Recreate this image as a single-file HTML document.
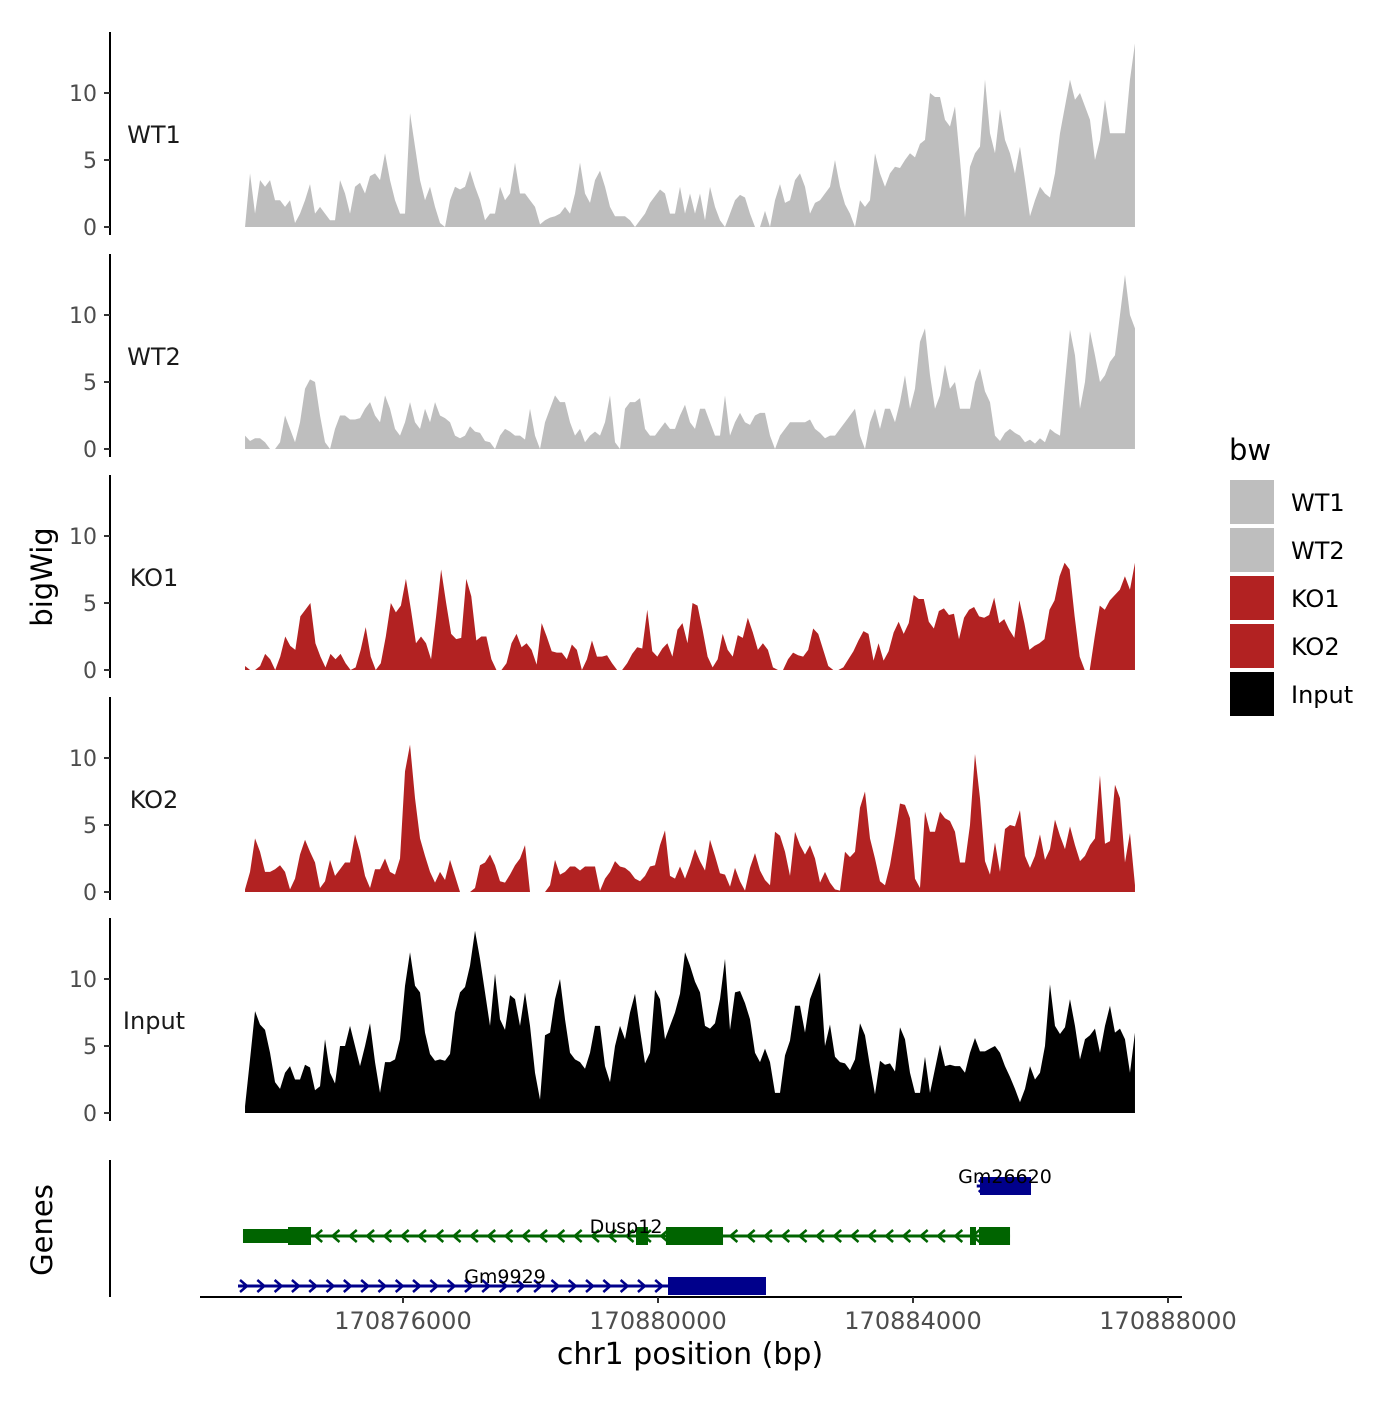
<!DOCTYPE html>
<html><head><meta charset="utf-8"><style>
html,body{margin:0;padding:0;background:#fff}
svg text{font-family:"DejaVu Sans","Liberation Sans",sans-serif}
</style></head><body>
<svg id="chart" width="1400" height="1400" viewBox="0 0 1400 1400"></svg>
<script>
const trackNames = ["WT1","WT2","KO1","KO2","Input"];
const trackColors = ["#bebebe","#bebebe","#b22222","#b22222","#000000"];
const yTicks = [0,5,10];
const xTickValues = [170876000,170880000,170884000,170888000];
const xTickLabels = ["170876000","170880000","170884000","170888000"];
const dataStart = 170873522;
const dataEnd = 170887482;
const wt1 = [0,4,1,3.5,3,3.5,2,2,1.5,2,0.3,1,2,3.2,1,1.5,1,0.5,0.5,3.5,2.5,1,3,3.3,2.5,3.8,4,3.5,5.5,3.5,2,1,1,8.5,6,3.5,2,3,1.5,0.3,0,2,3,2.8,3,4.2,3,2,0.5,1,1,3,2,2.5,4.8,2.5,2.5,2,1.5,0.2,0.5,0.7,0.8,1,1.5,1,2.5,4.8,2.5,1.8,3.5,4.2,3,1.5,0.8,0.8,0.8,0.5,0,0.5,1,1.8,2.3,2.8,2.5,1,1,3,1,2.5,1,2.5,0.5,3,1.5,0.5,0,1,2,2.4,2.2,1,0,0,1.2,0,2,3.2,1.8,2,3.5,4,3,1,1.8,2,2.5,3,5,3,1.7,1,0,2,1.5,2,5.5,4,3,4,4.5,4.4,5,5.5,5.2,6.2,6.5,10,9.7,9.7,8,7.5,9,5,0.7,4.5,5.5,6,11,7,5.5,8.8,6.5,5.5,4,6,3.5,0.8,2,3,2.5,2.2,4,7,9,11,9.5,10,9,8,5,6.5,9.5,7,7,7,7,11,13.7];
const wt2 = [1,0.6,0.8,0.8,0.5,0,0,0.5,2.5,1.5,0.5,2,4.5,5.2,5,2.5,0.5,0,1.5,2.5,2.5,2.2,2.2,2.3,3,3.5,2.5,2,4,3,1.5,1,2,3.5,2,1.5,3,2,3.5,2.5,2.3,2,1,0.8,1,1.7,1.3,1.2,0.6,0.5,0,1,1.5,1.3,1,1,0.7,3,1,0,2,3,4,3.5,3.5,2,1,1.5,0.5,1,1.3,1,2,4,0.5,0,3,3.5,3.5,3.8,1.5,1,1,1.5,2,1.5,1.5,2.5,3.3,2,1.5,3,3,2,1,1,4,1,2,2.7,2,1.8,2.5,2.7,2.7,1,0,1,1.5,2,2,2,2,2.2,1.5,1.2,0.8,1,1,1.5,2,2.5,3,1,0,2,3,1.5,3,3,2,3.5,5.5,3,4.5,8,9,5.5,3,4,6.3,4.5,5,3,3,3,5,6,4.3,3.5,1,0.6,1.2,1.5,1.2,1,0.5,0.7,0.4,0.8,0.5,1.5,1.2,1,5,8.9,7,3,5,8.8,7,5,5.5,6.5,7,10,13,10,9];
const ko1 = [0.3,0,0,0.3,1.2,0.8,0,1,2.5,1.8,1.5,4,4.5,5,2,1,0.2,1.2,0.8,1.2,0.5,0,0.2,1.5,3.2,1,0,0.5,2.5,5,4.3,4.8,6.8,4.5,2,2.5,2,0.8,4,7.5,5,2.7,2.3,2.4,6.8,5.5,2.2,2.5,2.5,0.8,0,0,0.5,2,2.7,1.7,2,1.5,0.4,3.5,2.5,1.4,1.3,1.3,0.8,1.9,1.5,0,0.8,2.2,1,1,1.1,0.5,0,0,0.5,1.2,1.7,1.6,4.5,1.4,1,1.6,2,1,3,3.5,2,5,4.8,3,1,0.2,0.8,2.7,1.5,1,2.6,2.4,3.9,2.8,1.5,2,1.5,0.2,0,0,0.8,1.3,1.1,1,1.5,3.1,2.7,1.5,0.3,0,0,0.2,0.8,1.4,2.2,2.9,2.7,0.7,2,0.7,1.4,2.8,3.6,2.7,3.5,5.6,5.3,5.3,3.6,3.1,4.4,4.6,4.1,4.2,2.3,3.9,4.5,4.7,4,3.9,4.1,5.4,3.5,3.8,3,2.4,5.2,3.5,1.5,1.8,2,2.3,4.5,5.2,7,8,7.5,4,1,0,0,2.5,4.8,4.5,5.2,5.6,6,7,6,8];
const ko2 = [0.2,1.5,4,3,1.5,1.5,1.7,2,1.5,0.2,1,2.8,3.9,3,2.2,0.3,0.8,2.4,1.2,1.7,2.2,2.2,4.3,3,1.2,0.3,1.7,1.7,2.5,1.5,1.3,2.5,9,11,7,4,2.7,1.5,0.7,1.5,0.9,2.4,1.2,0,0,0,0.3,2,2.2,2.8,2,0.8,0.7,1.3,2,2.5,3.5,0,0,0,0,0.5,2.4,1.3,1.5,1.9,1.9,1.6,1.9,1.9,1.9,0.1,1,1.5,2.3,1.9,1.8,1.5,1,0.8,1.2,1.9,2,3.5,4.6,1.2,1,1.9,1,2,3.2,2.3,1.6,3.9,2.7,1.4,1.3,0.4,1.8,0.8,0.1,1.8,2.9,1.6,0.9,0.5,4.5,4.2,3,1.2,4.5,3.5,2.8,3.5,2.5,0.7,1.5,0.7,0.2,0.1,3,2.6,3,6.3,7.5,4,2.5,0.8,0.5,2,4.2,6.6,6.5,5.5,1,0.3,6,4.5,4.5,6,5.5,5.3,4.5,2.2,2.2,5,10.3,7,2.3,1.3,3.7,1.5,4.7,5,4.9,6.1,2.7,1.8,2.7,4.3,2.4,3.2,5.4,4.2,3.2,4.9,3.5,2.3,2.7,3.5,4,8.7,3.6,3.8,8,7,2.2,4.4,0.5];
const input = [0.5,4,7.6,6.6,6.2,4.5,2.3,1.8,3,3.5,2.5,2.5,3.6,3.4,1.7,2,5.5,3,2.2,5,5,6.5,5,3.5,5,6.7,3.8,1.5,3.8,3.8,4,5.5,9.5,12,9.5,9,6,4.4,3.9,4,3.9,4.4,7.5,9,9.4,11,13.6,11.5,9,6.5,10.4,7,6.2,8.8,8.5,6.5,9,6.5,3,1,5.8,6,8.5,10,7,4.5,4,3.8,3.3,4.5,6.5,6.5,3.5,2.3,5,6.5,5.5,7.5,8.9,6.2,3.7,4.5,9.2,8.5,5.5,6.5,7.5,8.9,12,11,9.8,9,6.5,6.3,6.7,8.5,11.5,6.2,9,9.1,8.2,7,4.5,3.8,4.8,3.8,1.5,1.5,4.3,5.4,8,8,6,8.5,9.5,10.5,5,6.6,4.2,3.8,3.7,3.2,4,6.7,5.8,3.5,1.4,3.9,3.6,3.7,3.1,6.4,5.5,3,1.5,1.5,4.2,1.5,3.3,5.1,3.5,3.6,3.5,3.5,3,4.5,5.6,4.6,4.6,4.8,5,4.5,3.5,2.7,1.8,0.8,1.8,3.5,2.5,3,5,9.6,6.5,5.9,6.4,8.5,6.5,4,5.5,5.8,6.3,4.5,6.5,8,6,6.3,5.5,3,6];
const trackData = [wt1,wt2,ko1,ko2,input];
const geneNames = ["Gm26620","Dusp12","Gm9929"];
const geneStrands = ["+","-","+"];
const geneColors = ["#00008b","#006400","#00008b"];
const geneStarts = [170885000,170873490,170873412];
const geneEnds = [170885851,170885522,170881694];
const geneExons = [
  [[170885051,170885851]],
  [[170873490,170874196,0.7],[170874196,170874557],[170879655,170879843],[170880125,170881020],[170884894,170884988],[170885035,170885522]],
  [[170880157,170881694]]
];
const legendLabels = ["WT1","WT2","KO1","KO2","Input"];

const svg = document.getElementById('chart');
const NS = 'http://www.w3.org/2000/svg';
function mk(tag, attrs, parent){const e=document.createElementNS(NS,tag);for(const k in attrs)e.setAttribute(k,attrs[k]);(parent||svg).appendChild(e);return e;}
const xPx = bp => 403 + (bp - 170876000) * 0.06375;
const zeros = [227,449,670,892,1113];
const pxPerUnit = 13.4;

trackData.forEach((vals, t) => {
  const z = zeros[t];
  const yPx = v => z - v * pxPerUnit;
  const g = mk('g', {});
  
  
  const n = vals.length;
  let d = 'M' + xPx(dataStart) + ',' + z;
  vals.forEach((v, i) => {
    const bp = dataStart + (dataEnd - dataStart) * i / (n - 1);
    d += ' L' + xPx(bp).toFixed(2) + ',' + yPx(v).toFixed(2);
  });
  d += ' L' + xPx(dataEnd) + ',' + z + ' Z';
  const p = mk('path', {d: d, fill: trackColors[t]}, g);
  
  
  const ax = mk('line', {x1:110, x2:110, y1:z - 195, y2:z + 8, stroke:'#000', 'stroke-width':2}, g);
  
  
  yTicks.forEach(tv => {
    const ty = yPx(tv);
    const tk = mk('line', {x1:104, x2:110, y1:ty, y2:ty, stroke:'#333', 'stroke-width':2}, g);
    
    
    const tl = mk('text', {x:97, y:ty + 8, 'text-anchor':'end', 'font-size':22, fill:'#4d4d4d'}, g);
    tl.textContent = String(tv);
    
    
  });
  const lab = mk('text', {x:154, y:z - 93 + 9, 'text-anchor':'middle', 'font-size':24, fill:'#1a1a1a'}, g);
  lab.textContent = trackNames[t];
  
  
});

const rowY = [1186,1236,1286];
const gg = mk('g', {});


geneNames.forEach((name, i) => {
  const y = rowY[i], col = geneColors[i];
  const x1 = xPx(geneStarts[i]), x2 = xPx(geneEnds[i]);
  const ln = mk('line', {x1:x1, x2:x2, y1:y, y2:y, stroke:col, 'stroke-width':3}, gg);
  
  
  for (let ax = x1 + 6; ax < x2 - 4; ax += 17.3) {
    const dir = geneStrands[i] === '+' ? 1 : -1;
    const ar = mk('polyline', {points:(ax - 4*dir) + ',' + (y - 6) + ' ' + (ax + 3*dir) + ',' + y + ' ' + (ax - 4*dir) + ',' + (y + 6), fill:'none', stroke:col, 'stroke-width':2.5}, gg);
    
    
  }
  geneExons[i].forEach(ex => {
    const h = ex[2] ? 14 : 18;
    const r = mk('rect', {x:xPx(ex[0]), y:y - h/2, width:xPx(ex[1]) - xPx(ex[0]), height:h, fill:col}, gg);
    
    
  });
});
[["Gm26620",1005,1183],["Dusp12",626,1233],["Gm9929",505,1283]].forEach(a => {
  const tx = mk('text', {x:a[1], y:a[2], 'text-anchor':'middle', 'font-size':19, fill:'#000'}, gg);
  tx.textContent = a[0];
  
  
});
const gax = mk('line', {x1:110, x2:110, y1:1160, y2:1297, stroke:'#000', 'stroke-width':2});



const xax = mk('line', {x1:200, x2:1182, y1:1297, y2:1297, stroke:'#000', 'stroke-width':2});


xTickValues.forEach((v, i) => {
  const x = xPx(v);
  const tk = mk('line', {x1:x, x2:x, y1:1297, y2:1303, stroke:'#333', 'stroke-width':2});
  
  
  const tl = mk('text', {x:x, y:1329, 'text-anchor':'middle', 'font-size':24, fill:'#4d4d4d'});
  tl.textContent = xTickLabels[i];
  
  
});
const xt = mk('text', {x:690, y:1364, 'text-anchor':'middle', 'font-size':30, fill:'#000'});
xt.textContent = 'chr1 position (bp)';


const yt = mk('text', {x:0, y:0, 'text-anchor':'middle', 'font-size':29, fill:'#000', transform:'translate(52,577) rotate(-90)'});
yt.textContent = 'bigWig';


const gt = mk('text', {x:0, y:0, 'text-anchor':'middle', 'font-size':29, fill:'#000', transform:'translate(52,1230) rotate(-90)'});
gt.textContent = 'Genes';



const lg = mk('g', {});


const lt = mk('text', {x:1229, y:460, 'font-size':29, fill:'#000'}, lg);
lt.textContent = 'bw';


legendLabels.forEach((l, i) => {
  const y = 480 + i * 48;
  const r = mk('rect', {x:1230, y:y, width:44, height:44, fill:trackColors[i]}, lg);
  
  
  const tx = mk('text', {x:1291, y:y + 31, 'font-size':24, fill:'#000'}, lg);
  tx.textContent = l;
  
  
});
</script>
</body></html>
